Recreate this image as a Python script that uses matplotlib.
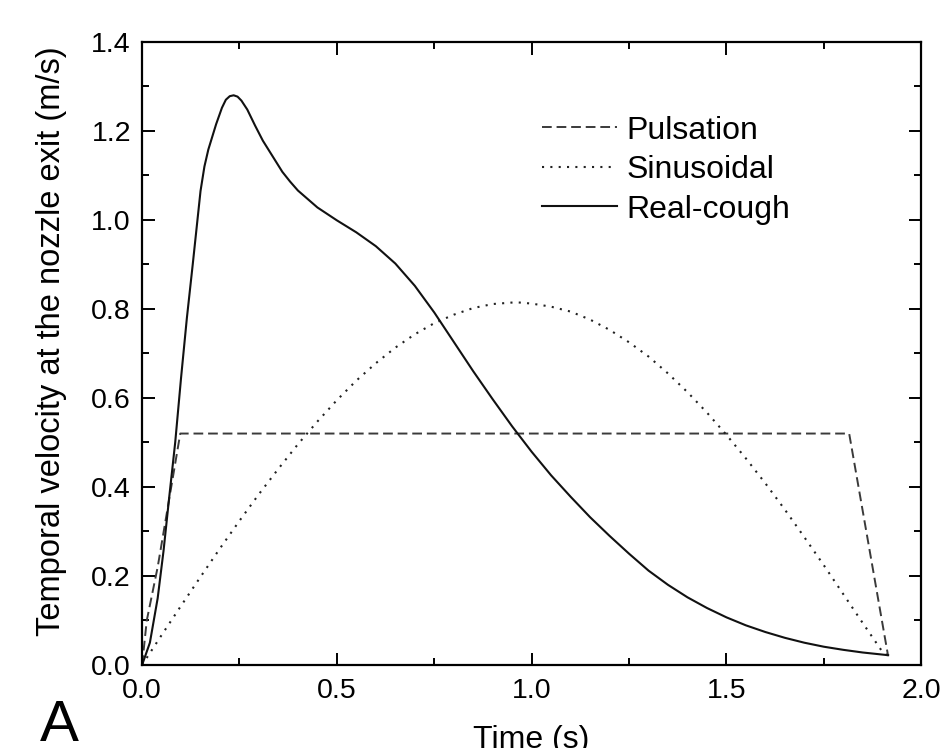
import numpy as np
import matplotlib
matplotlib.use("Agg")
import matplotlib.pyplot as plt
from matplotlib.ticker import MultipleLocator

plt.rcParams["font.family"] = ["Liberation Sans", "DejaVu Sans"]

# ======================
# DATA
# ======================
pulse_t = [0.0, 0.012, 0.04, 0.098, 1.815, 1.915]
pulse_v = [0.0, 0.10, 0.22, 0.52, 0.52, 0.02]

sine_t = [0.0, 0.05, 0.1, 0.15, 0.2, 0.25, 0.3, 0.35, 0.4, 0.45, 0.5, 0.55,
          0.6, 0.65, 0.7, 0.75, 0.8, 0.85, 0.9, 0.96, 1.0, 1.05, 1.1, 1.15,
          1.2, 1.25, 1.3, 1.35, 1.4, 1.45, 1.5, 1.55, 1.6, 1.65, 1.7, 1.75,
          1.8, 1.85, 1.9, 1.915]
sine_v = [0.0, 0.067, 0.133, 0.198, 0.262, 0.324, 0.384, 0.441, 0.496, 0.547,
          0.595, 0.639, 0.678, 0.713, 0.743, 0.768, 0.787, 0.802, 0.811, 0.815,
          0.812, 0.805, 0.794, 0.776, 0.753, 0.725, 0.693, 0.655, 0.613, 0.567,
          0.517, 0.464, 0.408, 0.349, 0.287, 0.224, 0.159, 0.094, 0.030, 0.02]

cough_t = [0.0, 0.02, 0.04, 0.055, 0.07, 0.085, 0.1, 0.115, 0.13, 0.15, 0.16,
           0.17, 0.19, 0.205, 0.215, 0.225, 0.235, 0.245, 0.255, 0.27, 0.29,
           0.31, 0.33, 0.36, 0.38, 0.4, 0.45, 0.5, 0.55, 0.6, 0.65, 0.7, 0.75,
           0.8, 0.85, 0.9, 0.95, 1.0, 1.05, 1.1, 1.15, 1.2, 1.25, 1.3, 1.35,
           1.4, 1.45, 1.5, 1.55, 1.6, 1.65, 1.7, 1.75, 1.8, 1.85, 1.915]
cough_v = [0.0, 0.05, 0.15, 0.256, 0.38, 0.50, 0.645, 0.78, 0.90, 1.065, 1.12,
           1.158, 1.215, 1.252, 1.27, 1.278, 1.28, 1.277, 1.268, 1.248, 1.212,
           1.178, 1.15, 1.108, 1.086, 1.066, 1.028, 0.999, 0.972, 0.941, 0.902,
           0.852, 0.792, 0.726, 0.66, 0.597, 0.536, 0.479, 0.426, 0.378, 0.332,
           0.29, 0.25, 0.212, 0.18, 0.152, 0.128, 0.107, 0.089, 0.074, 0.061,
           0.05, 0.041, 0.034, 0.028, 0.022]

# ======================
# PLOTTING
# ======================
fig = plt.figure(figsize=(9.41, 7.48), dpi=100)
ax = fig.add_axes([0.151, 0.111, 0.828, 0.833])

ax.plot(pulse_t, pulse_v, color="#3a3a3a", linestyle=(0, (5, 2.5)),
        linewidth=1.4, label="Pulsation")
ax.plot(sine_t, sine_v, color="#222222", linestyle=(0, (1, 3)),
        linewidth=1.5, label="Sinusoidal")
ax.plot(cough_t, cough_v, color="#111111", linestyle="-",
        linewidth=1.5, label="Real-cough")

ax.set_xlim(0, 2.0)
ax.set_ylim(0, 1.4)
ax.xaxis.set_major_locator(MultipleLocator(0.5))
ax.xaxis.set_minor_locator(MultipleLocator(0.25))
ax.yaxis.set_major_locator(MultipleLocator(0.2))
ax.yaxis.set_minor_locator(MultipleLocator(0.1))
ax.xaxis.set_major_formatter(plt.FormatStrFormatter("%.1f"))
ax.yaxis.set_major_formatter(plt.FormatStrFormatter("%.1f"))

ax.tick_params(which="both", direction="in", top=True, right=True, width=1.4)
ax.tick_params(which="major", length=9, labelsize=20.5)
ax.tick_params(which="minor", length=5)
ax.tick_params(axis="x", which="major", pad=9.5)
ax.tick_params(axis="y", which="major", pad=8)
for s in ax.spines.values():
    s.set_linewidth(1.6)

ax.set_ylabel("Temporal velocity at the nozzle exit (m/s)", fontsize=23.5)
ax.yaxis.set_label_coords(-0.096, 0.52)
ax.set_xlabel("Time (s)", fontsize=23)
ax.xaxis.set_label_coords(0.499, -0.096)

ax.legend(loc="upper left", bbox_to_anchor=(0.476, 0.928), frameon=False,
          fontsize=23, handlelength=2.35, handletextpad=0.31, labelspacing=0.3)

fig.text(0.042, 0.01, "A", fontsize=42, ha="left", va="baseline")

plt.savefig("out.png", dpi=100)
